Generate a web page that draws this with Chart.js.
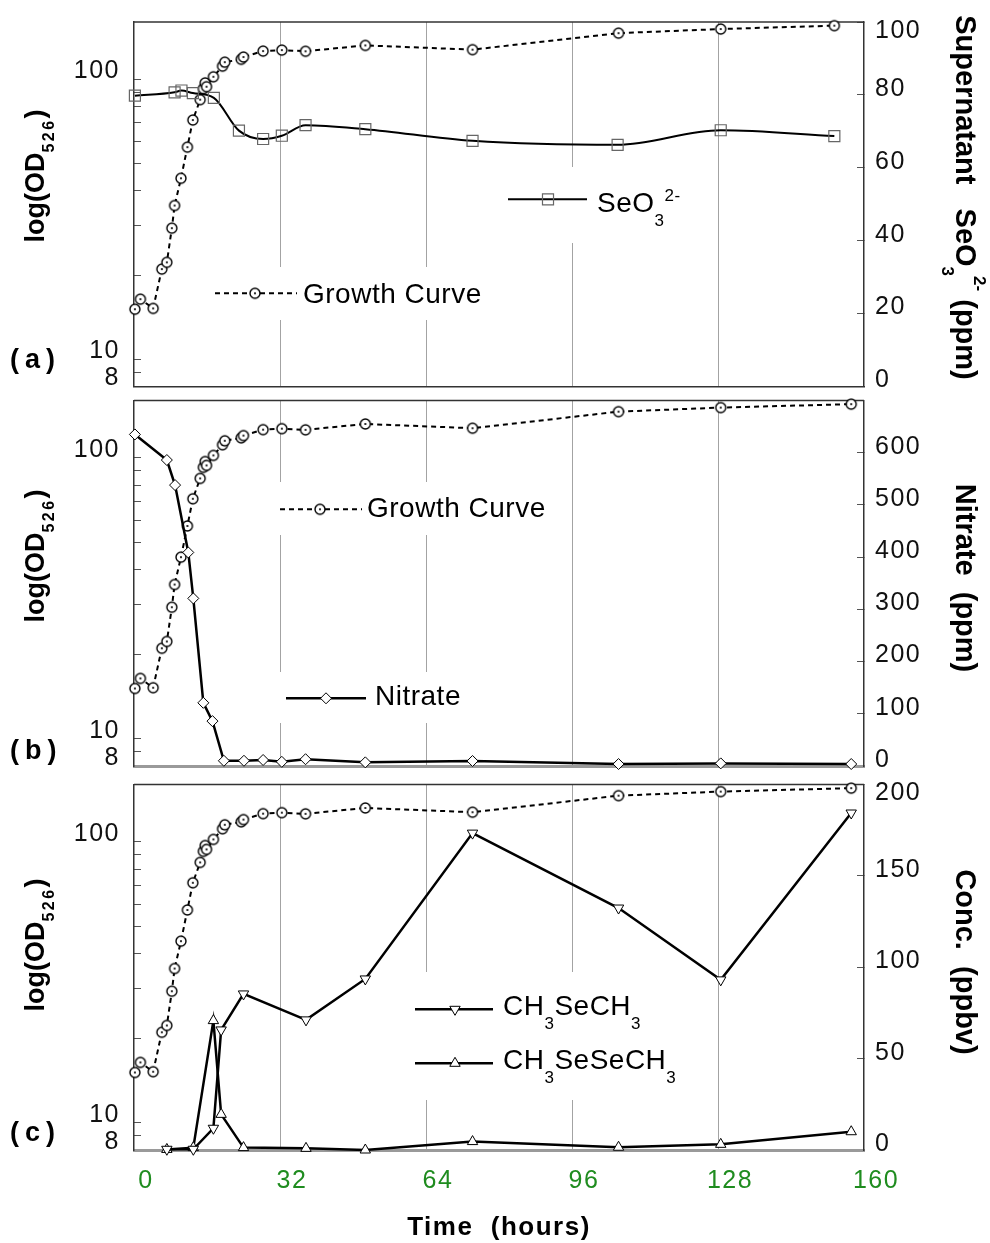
<!DOCTYPE html>
<html>
<head>
<meta charset="utf-8">
<title>Growth, selenite, nitrate and volatile selenium</title>
<script src="https://cdn.jsdelivr.net/npm/chart.js@4.4.1/dist/chart.umd.min.js"></script>
<style>
  html, body { margin: 0; padding: 0; background: #fff; }
  #page { position: relative; width: 990px; height: 1243px; }
  #page canvas { position: absolute; left: 0; }
</style>
</head>
<body>
<div id="page">
  <canvas id="panelA" width="990" height="393" style="top:0"></canvas>
  <canvas id="panelB" width="990" height="383" style="top:393px"></canvas>
  <canvas id="panelC" width="990" height="467" style="top:776px"></canvas>
</div>
<script>
const FONT = "'Liberation Sans', Arial, Helvetica, sans-serif";
Chart.defaults.font.family = FONT;

// time axis (hours)
const hourTicks = [0, 32, 64, 96, 128, 160];

// log OD axis
const odTicks = [8, 9, 10, 20, 30, 40, 50, 60, 70, 80, 90, 100];
const odLabels = [8, 10, 100];

// growth curve, OD526
const growthHoursA = [0.2, 1.4, 4.2, 6.1, 7.2, 8.3, 8.9, 10.3, 11.7, 12.9, 14.5, 15.2, 15.6, 15.9, 17.4, 19.4, 19.9, 23.5, 24.0, 28.3, 32.4, 37.6, 50.7, 74.2, 106.2, 128.6, 153.5];
const growthHours = [0.2, 1.4, 4.2, 6.1, 7.2, 8.3, 8.9, 10.3, 11.7, 12.9, 14.5, 15.2, 15.6, 15.9, 17.4, 19.4, 19.9, 23.5, 24.0, 28.3, 32.4, 37.6, 50.7, 74.2, 106.2, 128.6, 157.2];
const growthOD = [15.1, 16.4, 15.2, 21.0, 22.2, 29.4, 35.4, 44.3, 57.2, 71.5, 84.5, 92.5, 97.0, 94.0, 102, 111.3, 115, 117.8, 120, 126, 127, 125.8, 132, 127.5, 146, 151, 155.3];

// (a) supernatant selenite, ppm
const seleniteHours = [0.2, 8.9, 10.4, 12.9, 17.5, 23.0, 28.3, 32.4, 37.6, 50.7, 74.2, 106.0, 128.6, 153.5];
const selenite = [79.8, 80.7, 81.2, 80.5, 79.2, 70.2, 67.9, 68.8, 71.7, 70.6, 67.4, 66.3, 70.3, 68.7];
const seleniteTicks = [0, 20, 40, 60, 80, 100];

// (b) nitrate, ppm
const nitrateHours = [0.2, 7.2, 9.0, 11.9, 13.0, 15.2, 17.2, 19.7, 24.1, 28.3, 32.4, 37.6, 50.7, 74.2, 106.2, 128.6, 157.2];
const nitrate = [635, 586, 538, 409, 321, 121, 86, 10, 10, 11.5, 8, 13, 7, 9.6, 3.8, 5, 3.8];
const nitrateTicks = [0, 100, 200, 300, 400, 500, 600];

// (c) volatile selenium in headspace, ppbv
const volatileHours = [7.2, 13.0, 17.4, 19.1, 24.0, 37.7, 50.7, 74.2, 106.2, 128.6, 157.2];
const dimethylSelenide = [0.4, 0.4, 11.9, 65.7, 85.4, 71.2, 93.6, 173.4, 132.4, 93.1, 184.4];
const dimethylDiselenide = [0.3, 1.3, 70.8, 19.5, 1.3, 0.9, 0, 4.6, 1.5, 3.1, 10];
const concTicks = [0, 50, 100, 150, 200];

const pts = (xs, ys) => xs.map((x, i) => ({ x, y: ys[i] }));

// open circle with a centre dot
function dotMarker() {
  const c = document.createElement('canvas');
  c.width = 14; c.height = 14;
  const g = c.getContext('2d');
  g.beginPath(); g.arc(7, 7, 5, 0, Math.PI * 2);
  g.fillStyle = '#fff'; g.fill();
  g.lineWidth = 1.4; g.strokeStyle = '#000'; g.stroke();
  g.beginPath(); g.arc(7, 7, 1.1, 0, Math.PI * 2);
  g.fillStyle = '#000'; g.fill();
  return c;
}
const circleDot = dotMarker();

// text built from segments (sub/superscripts), anchored at the middle of the main glyphs
function drawRich(ctx, t, top) {
  const weight = t.weight || 'bold';
  const sp = t.spacing ?? 0;
  ctx.save();
  ctx.translate(t.x, t.y - top);
  ctx.rotate(t.rot || 0);
  ctx.textAlign = 'left';
  ctx.textBaseline = 'alphabetic';
  ctx.fillStyle = '#000';
  const widths = t.segs.map(s => {
    ctx.font = `${weight} ${s.size}px ${FONT}`;
    ctx.letterSpacing = (s.ls ?? sp) + 'px';
    return ctx.measureText(s.t).width;
  });
  const total = widths.reduce((a, b) => a + b, 0);
  const base = 0.36 * t.segs[0].size;
  let cx = t.align === 'left' ? 0 : -total / 2;
  t.segs.forEach((s, i) => {
    ctx.font = `${weight} ${s.size}px ${FONT}`;
    ctx.letterSpacing = (s.ls ?? sp) + 'px';
    ctx.fillText(s.t, cx, base + (s.dy || 0));
    cx += widths[i];
  });
  ctx.restore();
}

const decorPlugin = {
  id: 'decor',
  beforeDraw(chart) {
    chart.ctx.letterSpacing = '1.5px';
  },
  beforeDatasetsDraw(chart) {
    const { ctx, chartArea: a } = chart;
    ctx.save();
    ctx.strokeStyle = '#333';
    ctx.lineWidth = 1.5;
    ctx.beginPath();
    ctx.moveTo(a.left, a.top);
    ctx.lineTo(a.right, a.top);
    ctx.stroke();
    ctx.restore();
  },
  afterDatasetsDraw(chart, args, o) {
    const ctx = chart.ctx;
    const top = o.top;
    ctx.save();
    ctx.fillStyle = '#fff';
    o.boxes.forEach(b => ctx.fillRect(b[0], b[1] - top, b[2], b[3]));
    o.items.forEach(it => {
      const ds = chart.data.datasets[it.ds];
      const y = it.y - top;
      ctx.strokeStyle = ds.borderColor;
      ctx.lineWidth = ds.borderWidth;
      ctx.setLineDash(ds.borderDash || []);
      ctx.beginPath();
      ctx.moveTo(it.x1, y);
      ctx.lineTo(it.x2, y);
      ctx.stroke();
      ctx.setLineDash([]);
      ctx.fillStyle = ds.pointBackgroundColor || '#fff';
      ctx.strokeStyle = ds.pointBorderColor || '#000';
      ctx.lineWidth = ds.pointBorderWidth || 1;
      Chart.helpers.drawPoint(ctx, {
        pointStyle: ds.pointStyle, radius: ds.pointRadius,
        rotation: ds.pointRotation || 0, borderWidth: ctx.lineWidth
      }, it.marker, y);
      drawRich(ctx, Object.assign({ weight: 'normal', align: 'left', spacing: 0.5 }, it.text), top);
    });
    ctx.restore();
  },
  afterDraw(chart, args, o) {
    o.texts.forEach(t => drawRich(chart.ctx, t, o.top));
  }
};
Chart.register(decorPlugin);

function timeScale(showLabels, borderColor, borderWidth) {
  return {
    type: 'linear', min: 0, max: 160,
    afterBuildTicks: s => { s.ticks = hourTicks.map(v => ({ value: v })); },
    afterFit: s => { s.height = showLabels ? 93 : 0; s.paddingLeft = 0; s.paddingRight = 0; },
    grid: {
      drawTicks: false, lineWidth: 1,
      color: c => (c.tick && (c.tick.value === 0 || c.tick.value === 160)) ? 'rgba(0,0,0,0)' : '#a3a3a3'
    },
    border: { color: borderColor, width: borderWidth },
    ticks: { display: showLabels, color: '#1f8c1f', font: { size: 25 }, padding: 16, labelOffset: 12, maxRotation: 0, autoSkip: false },
    title: { display: showLabels, text: 'Time  (hours)', color: '#000', font: { size: 26, weight: 'bold' }, padding: 0 }
  };
}

function odScale() {
  return {
    type: 'logarithmic', position: 'left', min: 8, max: 160,
    afterBuildTicks: s => { s.ticks = odTicks.map(v => ({ value: v })); },
    afterFit: s => { s.width = 134; s.paddingTop = 0; s.paddingBottom = 0; },
    grid: { drawOnChartArea: false, tickLength: -7, color: '#555' },
    border: { color: '#333', width: 1.5 },
    ticks: {
      color: '#111', font: { size: 25 }, padding: 21, labelOffset: -8, autoSkip: false,
      callback: v => odLabels.includes(v) ? String(v) : ''
    }
  };
}

function rightScale(max, ticks) {
  return {
    type: 'linear', position: 'right', min: 0, max,
    afterBuildTicks: s => { s.ticks = ticks.map(v => ({ value: v })); },
    afterFit: s => { s.width = 126; s.paddingTop = 0; s.paddingBottom = 0; },
    grid: { drawOnChartArea: false, tickLength: -7, color: '#555' },
    border: { color: '#333', width: 1.5 },
    ticks: {
      color: '#111', font: { size: 25 }, padding: 18, labelOffset: -6, autoSkip: false,
      callback: v => v === max ? ['', String(v)] : String(v)
    }
  };
}

function panelOptions(pad, x, y2, decor) {
  return {
    responsive: false, animation: false, events: [],
    layout: { padding: { top: pad[0], bottom: pad[1], left: 0, right: 0 }, autoPadding: false },
    scales: { x, y: odScale(), y2 },
    plugins: { legend: { display: false }, tooltip: { enabled: false }, decor }
  };
}

const growthStyle = {
  label: 'Growth Curve', yAxisID: 'y', borderColor: '#000', borderWidth: 2, borderDash: [5, 4],
  pointStyle: circleDot, pointRadius: 5, tension: 0, clip: 10
};

const odTitle = x => ({ x: 34, y: x, rot: -Math.PI / 2, segs: [
  { t: 'log(OD', size: 27 }, { t: '526', size: 16, dy: 10, ls: 2.5 }, { t: ')', size: 27 }
] });
const panelLabel = (txt, y) => ({ x: 10, y, align: 'left', spacing: 6, segs: [{ t: txt, size: 27 }] });

// (a) selenite
new Chart(document.getElementById('panelA'), {
  type: 'line',
  data: { datasets: [
    { label: 'SeO3 2-', data: pts(seleniteHours, selenite), yAxisID: 'y2', borderColor: '#000', borderWidth: 2,
      cubicInterpolationMode: 'monotone', pointStyle: 'rect', pointRadius: 7.8, pointBorderColor: '#666',
      pointBackgroundColor: 'rgba(0,0,0,0)', pointBorderWidth: 1.2, clip: 10 },
    Object.assign({}, growthStyle, { data: pts(growthHoursA, growthOD) })
  ] },
  options: panelOptions([22, 6.5], timeScale(false, '#333', 1.5), rightScale(100, seleniteTicks), {
    top: 0,
    boxes: [[500, 167, 205, 76], [207, 267, 278, 53]],
    items: [
      { ds: 0, x1: 508, x2: 587, y: 199.3, marker: 548,
        text: { x: 597, y: 201.7, segs: [{ t: 'SeO', size: 28 }, { t: '3', size: 17, dy: 14 }, { t: '2-', size: 17, dy: -11 }] } },
      { ds: 1, x1: 215, x2: 297, y: 293.3, marker: 255,
        text: { x: 303, y: 293, segs: [{ t: 'Growth Curve', size: 28 }] } }
    ],
    texts: [
      odTitle(176),
      { x: 966, y: 197.5, rot: Math.PI / 2, segs: [
        { t: 'Supernatant   SeO', size: 29 }, { t: '3', size: 17, dy: 14 }, { t: '2-', size: 17, dy: -18 }, { t: ' (ppm)', size: 29 }
      ] },
      panelLabel('(a)', 358)
    ]
  })
});

// (b) nitrate
new Chart(document.getElementById('panelB'), {
  type: 'line',
  data: { datasets: [
    { label: 'Nitrate', data: pts(nitrateHours, nitrate), yAxisID: 'y2', borderColor: '#000', borderWidth: 2.5,
      tension: 0, pointStyle: 'rectRot', pointRadius: 5.5, pointBorderColor: '#000',
      pointBackgroundColor: '#fff', pointBorderWidth: 1, clip: 10 },
    Object.assign({}, growthStyle, { data: pts(growthHours, growthOD) })
  ] },
  options: panelOptions([7.5, 10], timeScale(false, '#9a9a9a', 3), rightScale(700, nitrateTicks), {
    top: 393,
    boxes: [[272, 482, 276, 53], [278, 672, 192, 51]],
    items: [
      { ds: 1, x1: 280, x2: 362, y: 509.3, marker: 320,
        text: { x: 367, y: 506.7, segs: [{ t: 'Growth Curve', size: 28 }] } },
      { ds: 0, x1: 286, x2: 366, y: 698.3, marker: 326,
        text: { x: 375, y: 695, segs: [{ t: 'Nitrate', size: 28 }] } }
    ],
    texts: [
      odTitle(556),
      { x: 966, y: 578, rot: Math.PI / 2, segs: [{ t: 'Nitrate  (ppm)', size: 29 }] },
      panelLabel('(b)', 749)
    ]
  })
});

// (c) volatile selenium species
new Chart(document.getElementById('panelC'), {
  type: 'line',
  data: { datasets: [
    { label: 'CH3SeCH3', data: pts(volatileHours, dimethylSelenide), yAxisID: 'y2', borderColor: '#000', borderWidth: 2.5,
      tension: 0, pointStyle: 'triangle', pointRotation: 180, pointRadius: 6, pointBorderColor: '#000',
      pointBackgroundColor: '#fff', pointBorderWidth: 1, clip: 10 },
    { label: 'CH3SeSeCH3', data: pts(volatileHours, dimethylDiselenide), yAxisID: 'y2', borderColor: '#000', borderWidth: 2.5,
      tension: 0, pointStyle: 'triangle', pointRadius: 6, pointBorderColor: '#000',
      pointBackgroundColor: '#fff', pointBorderWidth: 1, clip: 10 },
    Object.assign({}, growthStyle, { data: pts(growthHours, growthOD) })
  ] },
  options: panelOptions([8.5, 0], timeScale(true, '#9a9a9a', 3), rightScale(200, concTicks), {
    top: 776,
    boxes: [[408, 972, 292, 128]],
    items: [
      { ds: 0, x1: 415, x2: 493, y: 1009.3, marker: 455,
        text: { x: 503, y: 1005, segs: [{ t: 'CH', size: 28 }, { t: '3', size: 17, dy: 14 }, { t: 'SeCH', size: 28 }, { t: '3', size: 17, dy: 14 }] } },
      { ds: 1, x1: 415, x2: 493, y: 1063.3, marker: 455,
        text: { x: 503, y: 1059, segs: [{ t: 'CH', size: 28 }, { t: '3', size: 17, dy: 14 }, { t: 'SeSeCH', size: 28 }, { t: '3', size: 17, dy: 14 }] } }
    ],
    texts: [
      odTitle(945),
      { x: 966, y: 962, rot: Math.PI / 2, segs: [{ t: 'Conc.  (ppbv)', size: 29 }] },
      panelLabel('(c)', 1131)
    ]
  })
});
</script>
</body>
</html>
